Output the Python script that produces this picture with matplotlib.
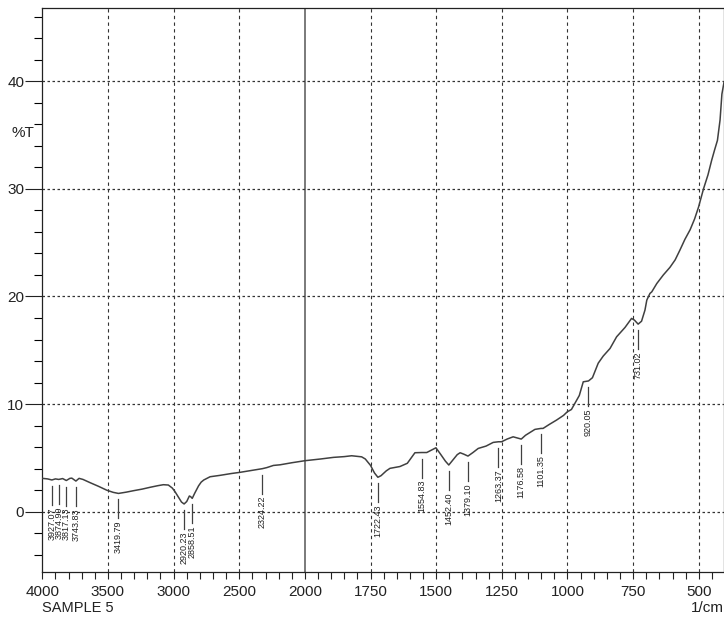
import numpy as np
import matplotlib
matplotlib.use("Agg")
import matplotlib.pyplot as plt
from matplotlib.ticker import FixedLocator, NullFormatter

# spectrum (wavenumber 1/cm, %T)
wavenumber = [4000, 3960, 3927, 3900, 3875, 3845, 3817, 3790, 3775, 3744, 3720, 3690,
              3636, 3570, 3509, 3460, 3420, 3360, 3307, 3240, 3179, 3120, 3078, 3040,
              3010, 2989, 2960, 2940, 2920, 2900, 2880, 2870, 2858, 2840, 2810, 2790,
              2770, 2722, 2646, 2560, 2494, 2400, 2324, 2290, 2240, 2189, 2100, 2000,
              1940, 1891, 1850, 1822, 1784, 1770, 1750, 1735, 1722, 1710, 1690, 1676,
              1650, 1638, 1610, 1581, 1555, 1536, 1501, 1485, 1465, 1452, 1440, 1420,
              1409, 1395, 1379, 1360, 1340, 1310, 1283, 1263, 1251, 1230, 1207, 1190,
              1176, 1160, 1124, 1101, 1093, 1070, 1042, 1015, 1001, 985, 972, 955,
              940, 920, 905, 883, 864, 838, 813, 781, 756, 745, 731, 718, 705, 698,
              686, 679, 660, 635, 610, 590, 572, 553, 533, 516, 501, 482, 465, 451,
              440, 429, 419, 412, 404]
transmittance = [3.10, 3.05, 2.95, 3.05, 3.00, 3.08, 2.90, 3.10, 3.12, 2.85, 3.10, 3.00,
                 2.70, 2.35, 2.00, 1.80, 1.70, 1.82, 1.95, 2.10, 2.27, 2.42, 2.51, 2.48,
                 2.20, 1.86, 1.30, 0.90, 0.72, 0.95, 1.46, 1.40, 1.24, 1.70, 2.40, 2.75,
                 2.95, 3.25, 3.38, 3.55, 3.66, 3.85, 4.00, 4.10, 4.30, 4.36, 4.55, 4.74,
                 4.90, 5.05, 5.12, 5.20, 5.10, 4.90, 4.30, 3.60, 3.20, 3.35, 3.80, 4.03,
                 4.15, 4.20, 4.50, 5.48, 5.50, 5.50, 5.94, 5.40, 4.70, 4.34, 4.70, 5.30,
                 5.48, 5.35, 5.17, 5.50, 5.88, 6.10, 6.44, 6.50, 6.50, 6.75, 6.96, 6.85,
                 6.75, 7.10, 7.65, 7.74, 7.74, 8.10, 8.51, 8.95, 9.28, 9.50, 10.06, 10.8,
                 12.07, 12.15, 12.45, 13.80, 14.46, 15.17, 16.25, 17.12, 17.96, 17.80, 17.43,
                 17.70, 18.73, 19.66, 20.28, 20.43, 21.20, 22.00, 22.70, 23.40, 24.30,
                 25.30, 26.20, 27.20, 28.30, 30.00, 31.30, 32.65, 33.60, 34.50, 36.40,
                 38.80, 39.90]

peaks = [3927.07, 3874.99, 3817.13, 3743.83, 3419.79, 2920.23, 2858.51, 2324.22,
         1722.43, 1554.83, 1452.40, 1379.10, 1263.37, 1176.58, 1101.35, 920.05, 731.02]

x_major = [4000, 3500, 3000, 2500, 2000, 1750, 1500, 1250, 1000, 750, 500]
x_minor = list(range(4000, 2000, -100)) + list(range(2000, 400, -50))
y_major = [0, 10, 20, 30, 40]
y_minor = list(range(-4, 47, 2))


def fwd(x):
    # double scale below 2000 1/cm
    x = np.asarray(x, dtype=float)
    return np.where(x >= 2000, x, 2 * x - 2000)


def inv(u):
    u = np.asarray(u, dtype=float)
    return np.where(u >= 2000, u, (u + 2000) / 2)


narrow = ['Liberation Sans Narrow', 'Liberation Sans', 'DejaVu Sans']
line_col = '#404040'

fig = plt.figure(figsize=(7.24, 6.21), dpi=100)
ax = fig.add_axes([42.3 / 724, 49 / 621, 681.7 / 724, 564 / 621])
ax.set_xscale('function', functions=(fwd, inv))
ax.set_xlim(4000, 404)
ax.set_ylim(-5.6, 46.8)

# grid
for xv in x_major[1:]:
    if xv == 2000:
        ax.axvline(xv, color='#707070', lw=1.3, zorder=1)
    else:
        ax.axvline(xv, color='#333333', lw=0.8, ls=(0, (3, 3)), zorder=1)
for yv in y_major:
    ax.axhline(yv, color='#333333', lw=0.9, ls=(0, (2, 2)), zorder=1)

ax.plot(wavenumber, transmittance, color=line_col, lw=1.1, zorder=3)

# peak markers
px_per_unit = 10.76
gap = 6 / px_per_unit
length = 19 / px_per_unit
for p in peaks:
    yv = np.interp(p, wavenumber[::-1], transmittance[::-1])
    y0 = yv - gap
    y1 = y0 - length
    ax.plot([p, p], [y0, y1], color=line_col, lw=0.9, zorder=3)
    ax.text(p, y1 - 0.2, '%.2f' % p, rotation=90, ha='center', va='top',
            fontsize=6.5, family=['Liberation Sans', 'DejaVu Sans'], color='#222222')

ax.xaxis.set_major_locator(FixedLocator(x_major))
ax.xaxis.set_minor_locator(FixedLocator(x_minor))
ax.xaxis.set_minor_formatter(NullFormatter())
ax.set_xticklabels([str(v) for v in x_major])
ax.yaxis.set_major_locator(FixedLocator(y_major))
ax.yaxis.set_minor_locator(FixedLocator(y_minor))
ax.set_yticklabels([str(v) for v in y_major])

ax.tick_params(axis='x', which='both', direction='out', length=5, width=0.8, pad=4,
               labelsize=11, colors='#222222')
ax.tick_params(axis='y', which='major', direction='out', length=12, width=0.8, pad=1,
               labelsize=11, colors='#222222')
ax.tick_params(axis='y', which='minor', direction='out', length=6, width=0.8)
for lab in ax.get_xticklabels() + ax.get_yticklabels():
    lab.set_family(narrow)

for s in ax.spines.values():
    s.set_color('#222222')
    s.set_linewidth(0.9)

fig.text(12 / 724, 1 - 133 / 621, '%T', fontsize=11, family=narrow, va='center',
         color='#222222')
fig.text(42 / 724, 1 - 608 / 621, 'SAMPLE 5', fontsize=10.5, family=narrow, va='center',
         color='#222222')
fig.text(724 / 724, 1 - 608 / 621, '1/cm', fontsize=11, family=narrow, va='center',
         ha='right', color='#222222')

fig.savefig('out.png', dpi=100)
